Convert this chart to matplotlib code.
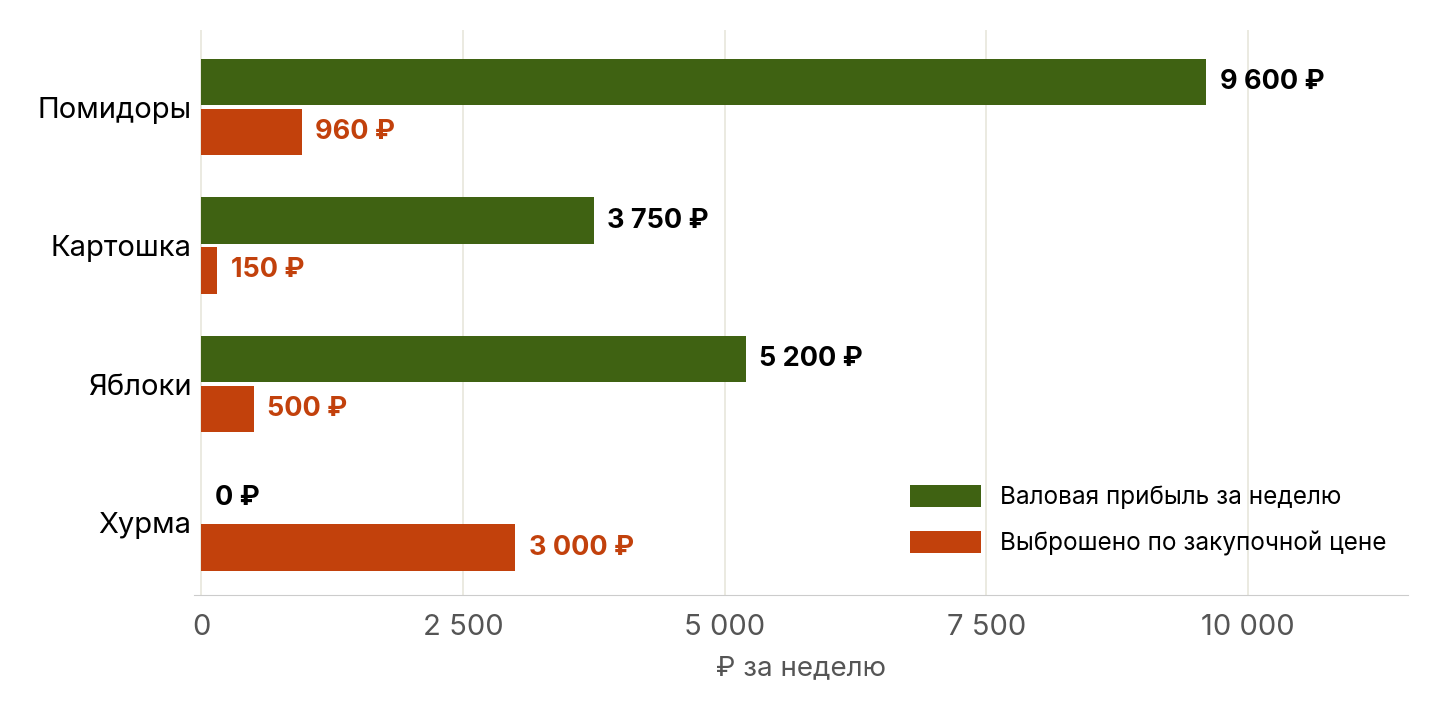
import matplotlib
matplotlib.use("Agg")
import matplotlib.pyplot as plt
import numpy as np

categories = ["Помидоры", "Картошка", "Яблоки", "Хурма"]
profit = [9600, 3750, 5200, 0]
waste = [960, 150, 500, 3000]
xticks = [0, 2500, 5000, 7500, 10000]
xtick_labels = ["0", "2 500", "5 000", "7 500", "10 000"]

plt.rcParams['font.family'] = ['Inter', 'DejaVu Sans']
green = "#3f6212"
orange = "#c2410c"

fig = plt.figure(figsize=(14.4, 7.2), dpi=100)
ax = fig.add_axes([0.135, 0.174, 0.843, 0.784])
y = np.arange(len(categories))
off = 0.18
h = 0.335
ax.barh(y - off, profit, height=h, color=green, label="Валовая прибыль за неделю", zorder=3)
ax.barh(y + off, waste, height=h, color=orange, label="Выброшено по закупочной цене", zorder=3)

def fmt(v):
    return f"{v:,}".replace(",", " ") + " ₽"

for yi, v in zip(y, profit):
    ax.text(v + 130, yi - off, fmt(v), va="center", ha="left", fontsize=19.5, fontweight="bold", color="black")
for yi, v in zip(y, waste):
    ax.text(v + 130, yi + off, fmt(v), va="center", ha="left", fontsize=19.5, fontweight="bold", color=orange)

ax.set_xlim(-65, 11530)
ax.set_ylim(3.52, -0.554)
ax.set_yticks(y)
ax.set_yticklabels(categories, fontsize=21)
ax.set_xticks(xticks)
ax.set_xticklabels(xtick_labels, fontsize=21, color="#555555")
ax.tick_params(axis="x", length=0, pad=14)
ax.tick_params(axis="y", length=0, pad=2)
ax.xaxis.grid(True, color="#e8e6dc", linewidth=1.2, zorder=0)
for s in ["top", "right", "left"]:
    ax.spines[s].set_visible(False)
ax.spines["bottom"].set_color("#cccccc")
ax.set_xlabel("₽ за неделю", fontsize=20, color="#555555", labelpad=10)
ax.legend(loc="lower right", frameon=False, fontsize=17.5, handlelength=2.9, handleheight=1.0,
          labelspacing=0.9, bbox_to_anchor=(1.0, 0.03))
fig.savefig("out.png", dpi=100)
